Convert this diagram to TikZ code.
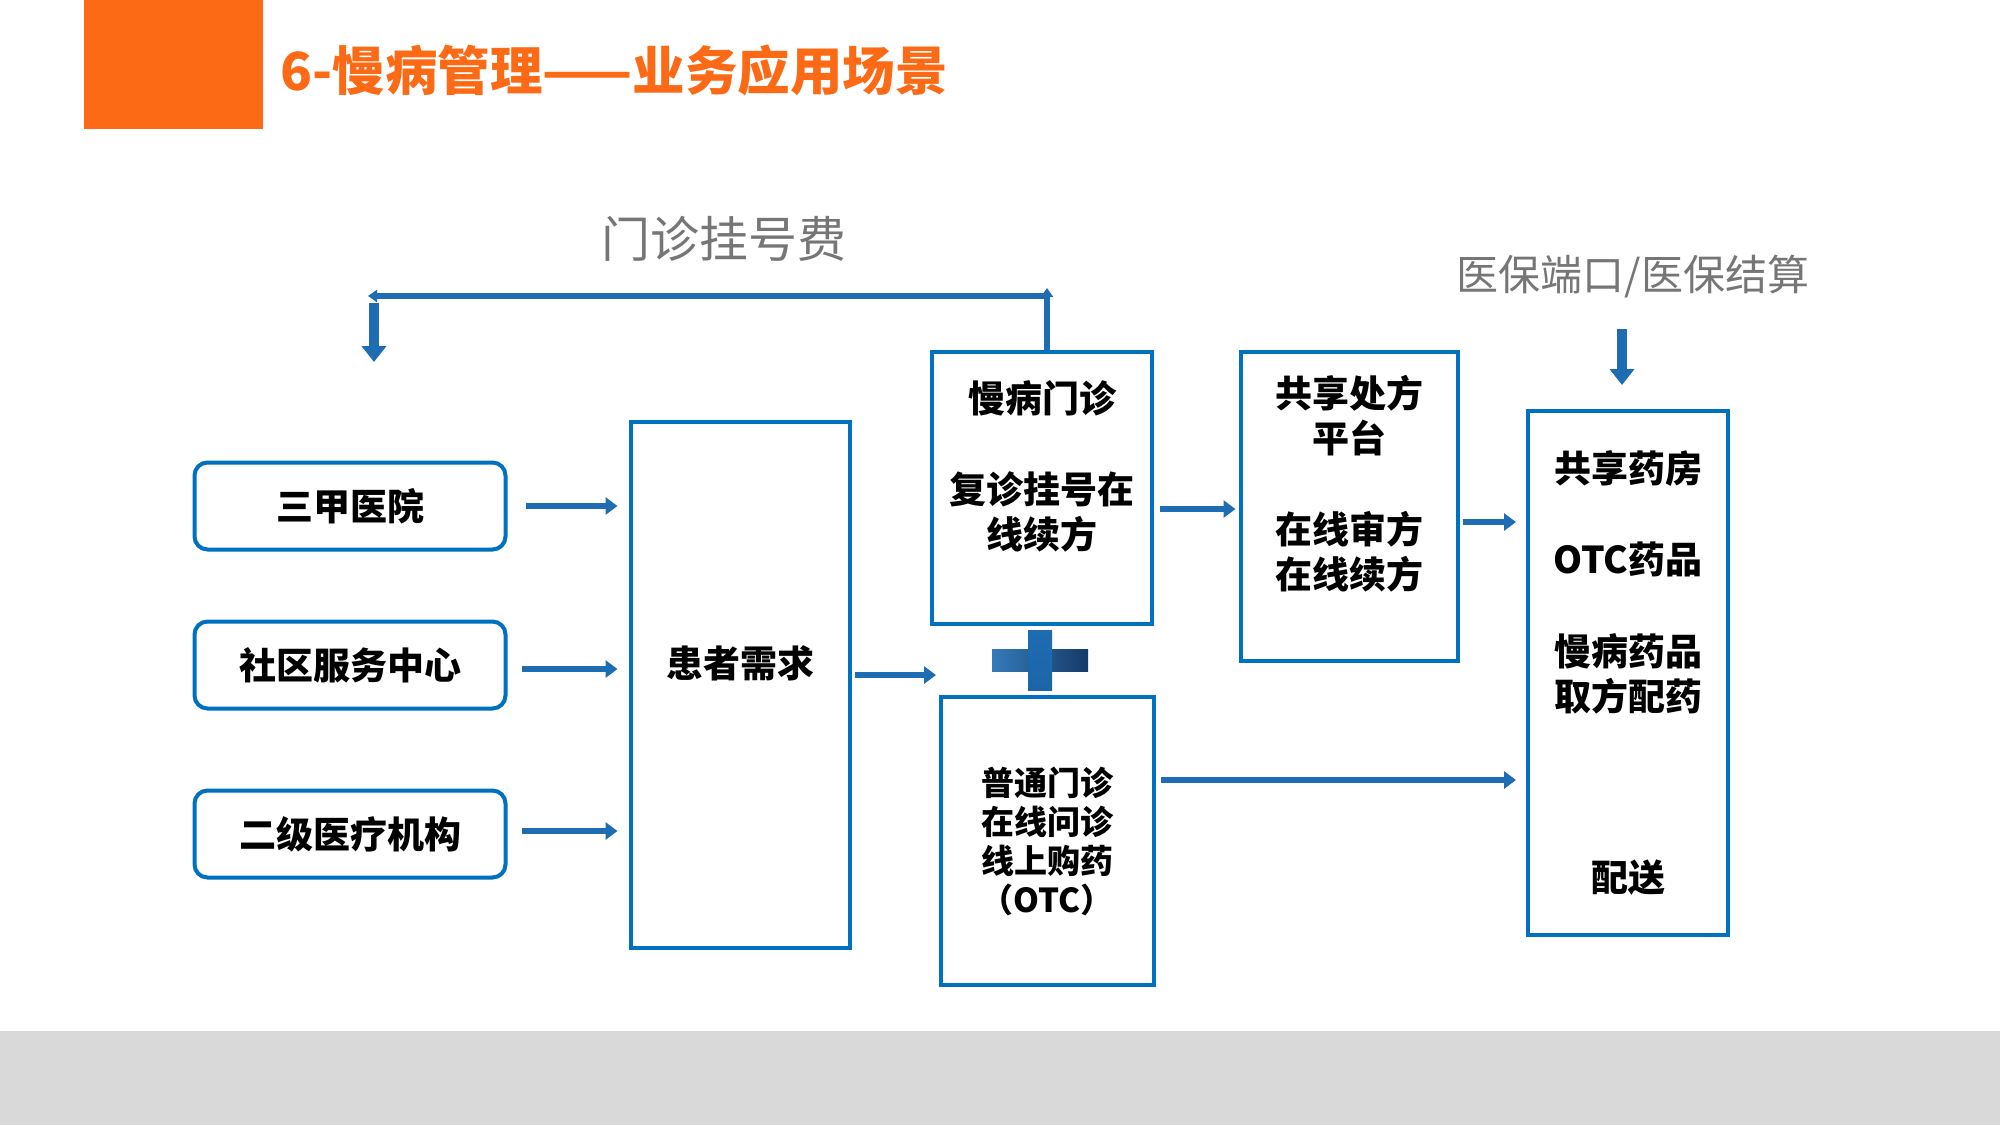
\documentclass[tikz,border=0pt]{standalone}
\usepackage{fontspec}
\setmainfont{Noto Sans CJK SC}
\usepackage{xcolor}
\usetikzlibrary{arrows.meta,positioning,calc}
\definecolor{boxblue}{RGB}{0,112,192}
\definecolor{arrowblue}{RGB}{30,108,178}
\definecolor{navy}{RGB}{22,58,104}
\definecolor{titleorange}{RGB}{252,106,22}
\definecolor{bandgray}{RGB}{217,217,217}
\definecolor{notegray}{RGB}{118,118,118}
\begin{document}
\begin{tikzpicture}[
x=1pt, y=-1pt,
hosp/.style={draw=boxblue, line width=4pt, rounded corners=13pt, minimum width=311pt, minimum height=87pt, align=center, font={\fontsize{37pt}{44pt}\selectfont\bfseries}},
tall/.style={draw=boxblue, line width=4pt, align=center, inner sep=0pt, font={\fontsize{37pt}{45pt}\selectfont\bfseries}},
note/.style={text=notegray, font={\fontsize{#1}{#1}\selectfont}},
arr/.style={-{Triangle[length=12pt,width=17pt]}, line width=6pt, arrowblue},
thinarr/.style={-{Triangle[length=9pt,width=12pt]}, line width=6pt, arrowblue},
bigarr/.style={-{Triangle[length=16pt,width=24pt]}, line width=10pt, arrowblue}
]
\useasboundingbox (0,0) rectangle (2000,1125);
\fill[white] (0,0) rectangle (2000,1125);
\fill[bandgray] (0,1031) rectangle (2000,1125);
\fill[titleorange] (84,0) rectangle (263,129);
\node[anchor=west, text=titleorange, font={\fontsize{52.5pt}{52pt}\selectfont\bfseries}] (title) at (277,70) {6-慢病管理——业务应用场景};

\node[hosp] (sanjia) at (350,506) {三甲医院};
\node[hosp] (shequ) at (350,665) {社区服务中心};
\node[hosp] (erji) at (350,834) {二级医疗机构};
\node[tall, minimum width=219pt, minimum height=526pt] (huanzhe) at (740,685) {患者需求\\[-12pt]\strut};
\node[tall, minimum width=220pt, minimum height=272pt] (manbing) at (1042,488) {慢病门诊\\\strut\\复诊挂号在\\线续方\\[-12pt]\strut};
\node[tall, minimum width=213pt, minimum height=288pt, font={\fontsize{33pt}{39pt}\selectfont\bfseries}] (putong) at (1047,841) {普通门诊\\在线问诊\\线上购药\\（OTC）};
\node[tall, minimum width=217pt, minimum height=309pt] (gongxiang) at (1349,506) {共享处方\\平台\\\strut\\在线审方\\在线续方\\[-10pt]\strut};
\node[tall, minimum width=200pt, minimum height=524pt] (yaofang) at (1628,673) {共享药房\\\strut\\OTC药品\\\strut\\慢病药品\\取方配药\\\strut\\\strut\\\strut\\配送};

\node[note=49pt] (guahao) at (724,239) {门诊挂号费};
\node[note=42pt] (yibao) at (1633,277) {医保端口/医保结算};

\shade[left color=arrowblue!90, right color=navy] (992,649) rectangle (1088,671);
\shade[top color=arrowblue, bottom color=arrowblue!85!navy] (1028,630) rectangle (1052,690);
\coordinate (plusin) at (936,675);
\coordinate (feeL) at (368,296);
\coordinate (feeR) at (1047,296);
\coordinate (regtop) at (374,303);
\coordinate (regbot) at (374,362);
\coordinate (ybtop) at (1622,329);

\draw[arr, shorten <=18pt, shorten >=11pt] (sanjia.east) -- (sanjia.east -| huanzhe.west);
\draw[arr, shorten <=14pt, shorten >=11pt] ([yshift=-4pt]shequ.east) -- ([yshift=-4pt]shequ.east -| huanzhe.west);
\draw[arr, shorten <=14pt, shorten >=11pt] ([yshift=3pt]erji.east) -- ([yshift=3pt]erji.east -| huanzhe.west);
\draw[arr, shorten <=3pt] (huanzhe.east |- plusin) -- (plusin);
\draw[arr, shorten <=6pt, shorten >=3pt] ([yshift=-21pt]manbing.east) -- ([yshift=-21pt]manbing.east -| gongxiang.west);
\draw[arr, shorten <=3pt, shorten >=10pt] ([yshift=-16pt]gongxiang.east) -- ([yshift=-16pt]gongxiang.east -| yaofang.west);
\draw[arr, shorten <=5pt, shorten >=10pt] ([yshift=61pt]putong.east) -- ([yshift=61pt]putong.east -| yaofang.west);
\draw[thinarr] (manbing.north -| feeR) -- ([yshift=8pt]feeR);
\draw[thinarr] (feeR) -- (feeL);
\draw[bigarr] (regtop) -- (regbot);
\draw[bigarr, shorten >=24pt] (ybtop) -- (ybtop |- yaofang.north);
\end{tikzpicture}
\end{document}
